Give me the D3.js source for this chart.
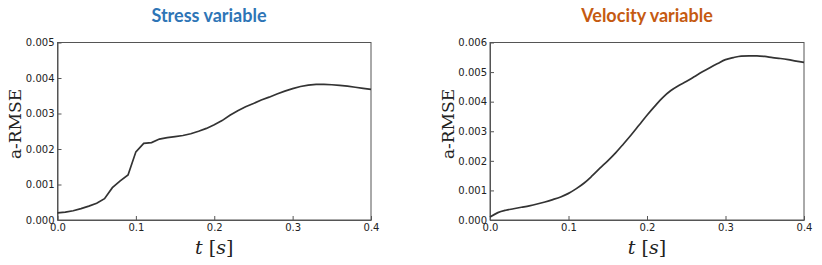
<!DOCTYPE html>
<html>
<head>
<meta charset="utf-8">
<script src="https://cdn.jsdelivr.net/npm/d3@7"></script>
<style>
  body { margin: 0; background: #fff; }
  svg { display: block; }
  .tick text { font-family: "DejaVu Sans", sans-serif; font-size: 10px; fill: #222; }
</style>
</head>
<body>
<div id="chart"></div>
<script>
// 時間軸
const tValues = [0, 0.01, 0.02, 0.03, 0.04, 0.05, 0.06, 0.07, 0.08, 0.09, 0.1,
  0.11, 0.12, 0.13, 0.14, 0.15, 0.16, 0.17, 0.18, 0.19, 0.2,
  0.21, 0.22, 0.23, 0.24, 0.25, 0.26, 0.27, 0.28, 0.29, 0.3,
  0.31, 0.32, 0.33, 0.34, 0.35, 0.36, 0.37, 0.38, 0.39, 0.4];

// Stress variable a-RMSE
const stressValues = [0.00020, 0.00022, 0.00026, 0.00032, 0.00039, 0.00047, 0.00060, 0.00091, 0.00110, 0.00127, 0.00192,
  0.00216, 0.00218, 0.00228, 0.00232, 0.00235, 0.00238, 0.00243, 0.00250, 0.00258, 0.00268,
  0.00280, 0.00295, 0.00308, 0.00319, 0.00328, 0.00338, 0.00346, 0.00355, 0.00363, 0.00370,
  0.00376, 0.00380, 0.00382, 0.00382, 0.00381, 0.00379, 0.00377, 0.00374, 0.00371, 0.00368];

// Velocity variable a-RMSE
const velocityValues = [0.00010, 0.00025, 0.00033, 0.00038, 0.00043, 0.00048, 0.00054, 0.00061, 0.00069, 0.00078, 0.00090,
  0.00106, 0.00125, 0.00149, 0.00175, 0.00200, 0.00227, 0.00257, 0.00288, 0.00321, 0.00354,
  0.00385, 0.00414, 0.00437, 0.00454, 0.00468, 0.00484, 0.00500, 0.00515, 0.00529, 0.00542,
  0.00549, 0.00554, 0.00555, 0.00555, 0.00553, 0.00549, 0.00546, 0.00542, 0.00537, 0.00533];

const xTicks = [0, 0.1, 0.2, 0.3, 0.4];
const stressTicks = [0, 0.001, 0.002, 0.003, 0.004, 0.005];
const velocityTicks = [0, 0.001, 0.002, 0.003, 0.004, 0.005, 0.006];

const svg = d3.select("#chart").append("svg")
    .attr("width", 822)
    .attr("height", 265);

function drawPanel(opt) {
    const x = d3.scaleLinear().domain([0, 0.4]).range([opt.left, opt.right]);
    const y = d3.scaleLinear().domain([0, opt.yMax]).range([220, 42.5]);
    const g = svg.append("g");

    // 標題
    g.append("text")
        .attr("x", opt.titleX)
        .attr("y", 22)
        .attr("text-anchor", "middle")
        .style("font-family", "Lato, 'Open Sans', sans-serif")
        .style("font-weight", "bold")
        .style("font-size", "18px")
        .style("fill", opt.titleColor)
        .text(opt.title);

    // 外框
    g.append("rect")
        .attr("x", opt.left)
        .attr("y", 42.5)
        .attr("width", opt.right - opt.left)
        .attr("height", 220 - 42.5)
        .attr("fill", "none")
        .attr("stroke", "#555")
        .attr("stroke-width", 1);

    const xAxis = g.append("g")
        .attr("transform", "translate(0,220)")
        .call(d3.axisBottom(x).tickValues(xTicks).tickFormat(d3.format(".1f")).tickSizeInner(-4).tickSizeOuter(0).tickPadding(4));
    const yAxis = g.append("g")
        .attr("transform", `translate(${opt.left},0)`)
        .call(d3.axisLeft(y).tickValues(opt.yTicks).tickFormat(d3.format(".3f")).tickSizeInner(-4).tickSizeOuter(0).tickPadding(3));
    [xAxis, yAxis].forEach(a => {
        a.select(".domain").attr("stroke", "#555");
        a.selectAll(".tick line").attr("stroke", "#555");
    });

    // 曲線
    const line = d3.line()
        .x((d, i) => x(tValues[i]))
        .y(d => y(d))
        .curve(opt.curve);
    g.append("path")
        .datum(opt.values)
        .attr("d", line)
        .attr("fill", "none")
        .attr("stroke", "#333")
        .attr("stroke-width", 1.7);

    // 軸標籤
    g.append("text")
        .attr("transform", `translate(${opt.ylabelX},124) rotate(-90)`)
        .attr("text-anchor", "middle")
        .attr("dy", "0.35em")
        .style("font-family", "'DejaVu Serif', 'Liberation Serif', serif")
        .style("font-size", "17px")
        .style("fill", "#222")
        .text("a-RMSE");

    const xl = g.append("text")
        .attr("x", (opt.left + opt.right) / 2)
        .attr("y", 254)
        .attr("text-anchor", "middle")
        .style("font-family", "'DejaVu Serif', 'Liberation Serif', serif")
        .style("font-size", "19px")
        .style("fill", "#222");
    xl.append("tspan").style("font-style", "italic").text("t");
    xl.append("tspan").text(" [");
    xl.append("tspan").style("font-style", "italic").text("s");
    xl.append("tspan").text("]");
}

drawPanel({ left: 57.5, right: 371, yMax: 0.005, yTicks: stressTicks, values: stressValues, curve: d3.curveLinear,
    title: "Stress variable", titleColor: "#2e75b6", titleX: 209, ylabelX: 15 });
drawPanel({ left: 490, right: 804, yMax: 0.006, yTicks: velocityTicks, values: velocityValues, curve: d3.curveMonotoneX,
    title: "Velocity variable", titleColor: "#c55a11", titleX: 647, ylabelX: 448 });
</script>
</body>
</html>
